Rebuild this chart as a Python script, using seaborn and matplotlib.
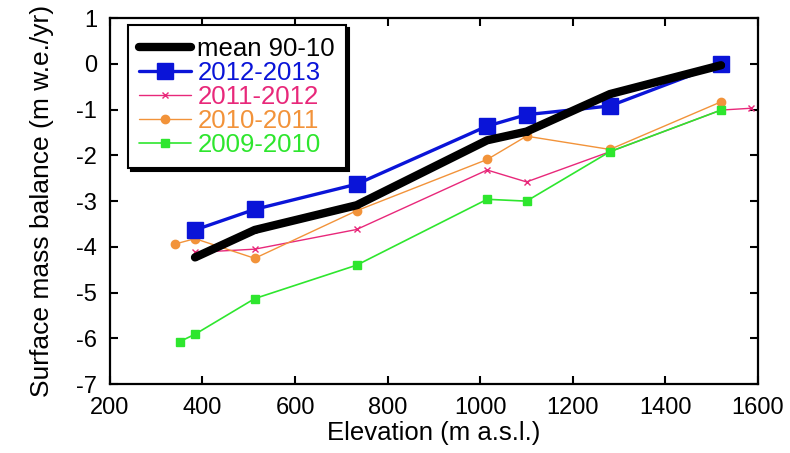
import matplotlib
matplotlib.use("Agg")
import matplotlib.pyplot as plt
import seaborn as sns
import pandas as pd

sns.set_style("ticks")
plt.rcParams["font.family"] = ["Liberation Sans", "DejaVu Sans"]
plt.rcParams["axes.unicode_minus"] = False
plt.rcParams["text.color"] = "black"
plt.rcParams["axes.labelcolor"] = "black"
plt.rcParams["xtick.color"] = "black"
plt.rcParams["ytick.color"] = "black"

# Data
mean_x = [384, 513, 733, 1015, 1100, 1280, 1520]
mean_y = [-4.23, -3.63, -3.09, -1.67, -1.48, -0.66, -0.03]
y1213_x = [384, 513, 733, 1015, 1100, 1280, 1520]
y1213_y = [-3.63, -3.18, -2.63, -1.36, -1.11, -0.92, 0.0]
y1112_x = [384, 513, 733, 1015, 1100, 1280, 1520, 1585]
y1112_y = [-4.12, -4.05, -3.62, -2.32, -2.58, -1.92, -1.01, -0.97]
y1011_x = [340, 384, 513, 733, 1015, 1100, 1280, 1520]
y1011_y = [-3.94, -3.82, -4.25, -3.21, -2.09, -1.58, -1.87, -0.83]
y0910_x = [351, 384, 513, 733, 1015, 1100, 1280, 1520]
y0910_y = [-6.07, -5.91, -5.13, -4.40, -2.96, -3.00, -1.92, -1.01]

series = [
    ("mean 90-10", mean_x, mean_y, "black", 6.0, "o", 4),
    ("2012-2013", y1213_x, y1213_y, "#0a14d8", 2.4, "s", 11),
    ("2011-2012", y1112_x, y1112_y, "#e8287a", 1.0, "x", 5),
    ("2010-2011", y1011_x, y1011_y, "#f2933a", 1.0, "o", 6),
    ("2009-2010", y0910_x, y0910_y, "#2ee62e", 1.2, "s", 5.5),
]

fig = plt.figure(figsize=(7.9, 4.53), dpi=100)
ax = fig.add_axes([0.139, 0.152, 0.8205, 0.808])

zorders = {"mean 90-10": 5, "2012-2013": 4, "2011-2012": 3, "2010-2011": 3, "2009-2010": 3}
for name, xs, ys, c, lw, m, ms in series:
    df = pd.DataFrame({"x": xs, "y": ys})
    sns.lineplot(data=df, x="x", y="y", ax=ax, color=c, linewidth=lw, marker=m,
                 markersize=ms, markeredgecolor=c, markerfacecolor=c,
                 markeredgewidth=1.0, solid_capstyle="round",
                 sort=False, estimator=None, label=name, zorder=zorders[name])

ax.set_xlim(200, 1600)
ax.set_ylim(-7, 1)
ax.set_xticks(range(200, 1601, 200))
ax.set_yticks(range(-7, 2))
ax.tick_params(direction="in", length=6, width=1.5, top=True, right=True,
               labelsize=17, colors="black")
ax.tick_params(axis="x", pad=9)
ax.tick_params(axis="y", pad=9)
for s in ax.spines.values():
    s.set_linewidth(1.6)
    s.set_color("black")
ax.set_xlabel("Elevation (m a.s.l.)", fontsize=18.5, labelpad=2)
ax.set_ylabel("Surface mass balance (m w.e./yr)", fontsize=19, labelpad=16)

leg = ax.legend(loc="upper left", bbox_to_anchor=(0.02, 0.995), fontsize=18.5,
                frameon=True, fancybox=False,
                shadow={"color": "black", "alpha": 1.0},
                borderpad=0.45, labelspacing=0.0, handlelength=2.0,
                handletextpad=0.25, borderaxespad=0.2)
leg.get_frame().set_edgecolor("black")
leg.get_frame().set_linewidth(1.5)
leg.get_frame().set_alpha(1.0)
for txt, s in zip(leg.get_texts(), series):
    txt.set_color(s[3])

fig.savefig("out.png", dpi=100)
